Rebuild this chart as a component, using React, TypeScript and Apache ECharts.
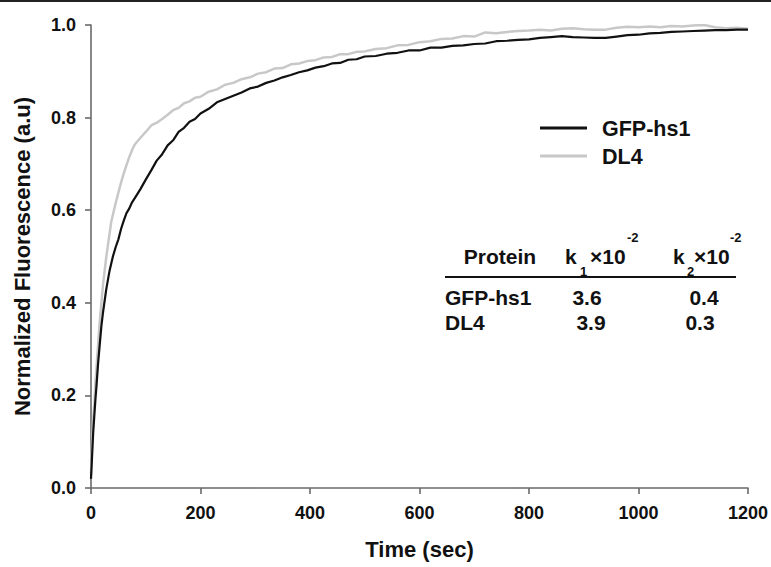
import React, { useEffect, useRef } from "react";
import * as echarts from "echarts";

const timeSec = [
  0, 2, 4, 6, 8, 10, 13, 16, 19, 22, 25, 28, 31, 34, 37, 40, 45, 50, 55, 60, 65, 70, 75, 80, 90,
  100, 110, 120, 130, 140, 150, 160, 170, 180, 190, 200, 215, 230, 245, 260, 275, 290, 305, 320,
  335, 350, 365, 380, 395, 410, 425, 440, 455, 470, 485, 500, 520, 540, 560, 580, 600, 620, 640,
  660, 680, 700, 720, 740, 760, 780, 800, 820, 840, 860, 880, 900, 920, 940, 960, 980, 1000, 1020,
  1040, 1060, 1080, 1100, 1120, 1140, 1160, 1180, 1200,
];

const gfpHs1 = [
  0.02, 0.07, 0.12, 0.155, 0.19, 0.22, 0.27, 0.31, 0.35, 0.38, 0.405, 0.43, 0.45, 0.47, 0.485, 0.5,
  0.52, 0.537, 0.56, 0.578, 0.594, 0.604, 0.617, 0.626, 0.645, 0.666, 0.686, 0.707, 0.721, 0.74,
  0.751, 0.769, 0.778, 0.791, 0.797, 0.809, 0.819, 0.833, 0.84, 0.847, 0.854, 0.863, 0.867, 0.875,
  0.88, 0.887, 0.892, 0.898, 0.902, 0.908, 0.911, 0.917, 0.918, 0.925, 0.926, 0.932, 0.933, 0.938,
  0.94, 0.945, 0.945, 0.951, 0.951, 0.955, 0.956, 0.959, 0.96, 0.965, 0.966, 0.968, 0.969, 0.972,
  0.974, 0.976, 0.974, 0.973, 0.972, 0.972, 0.975, 0.978, 0.979, 0.982, 0.983, 0.985, 0.986, 0.987,
  0.988, 0.989, 0.989, 0.99, 0.99,
];

const dl4 = [
  0.03, 0.1, 0.15, 0.18, 0.225, 0.26, 0.31, 0.36, 0.4, 0.44, 0.47, 0.5, 0.525, 0.55, 0.575, 0.59,
  0.615, 0.638, 0.66, 0.68, 0.698, 0.715, 0.73, 0.742, 0.756, 0.769, 0.783, 0.789, 0.797, 0.806, 0.816,
  0.821, 0.831, 0.835, 0.843, 0.845, 0.856, 0.861, 0.871, 0.875, 0.883, 0.887, 0.895, 0.898, 0.906,
  0.907, 0.915, 0.917, 0.922, 0.924, 0.93, 0.931, 0.937, 0.937, 0.942, 0.943, 0.948, 0.95, 0.956,
  0.957, 0.963, 0.965, 0.97, 0.971, 0.976, 0.975, 0.984, 0.982, 0.985, 0.987, 0.988, 0.99, 0.988,
  0.992, 0.993, 0.991, 0.99, 0.99, 0.994, 0.996, 0.995, 0.997, 0.995, 0.998, 0.997, 0.999, 1.0,
  0.995, 0.993, 0.994, 0.992,
];

const seriesNames = ["GFP-hs1", "DL4"];
const seriesColors = ["#111111", "#c8c8c8"];

const tableHeader = ["Protein", "k", "1", "×10", "-2", "k", "2", "×10", "-2"];
const tableProteins = ["GFP-hs1", "DL4"];
const tableK1 = ["3.6", "3.9"];
const tableK2 = ["0.4", "0.3"];

const FONT = "'Liberation Sans', Arial, Helvetica, sans-serif";

export default function App() {
  const ref = useRef<HTMLDivElement>(null);

  useEffect(() => {
    if (!ref.current) return;
    const chart = echarts.init(ref.current, undefined, { renderer: "svg" });

    const bold = (size: number) => ({
      fontFamily: FONT,
      fontWeight: "bold" as const,
      fontSize: size,
      fill: "#111",
    });

    const graphic: any[] = [
      // top border
      { type: "line", shape: { x1: 0, y1: 1, x2: 771, y2: 1 }, style: { stroke: "#222", lineWidth: 2 } },
      // legend
      { type: "line", shape: { x1: 540, y1: 128, x2: 587, y2: 128 }, style: { stroke: seriesColors[0], lineWidth: 3 } },
      { type: "text", x: 602, y: 129, style: { ...bold(21.5), text: seriesNames[0], verticalAlign: "middle" } },
      { type: "line", shape: { x1: 540, y1: 156, x2: 587, y2: 156 }, style: { stroke: seriesColors[1], lineWidth: 3 } },
      { type: "text", x: 602, y: 157, style: { ...bold(21.5), text: seriesNames[1], verticalAlign: "middle" } },
      // table header
      { type: "text", x: 500, y: 256, style: { ...bold(21), text: tableHeader[0], align: "center", verticalAlign: "middle" } },
      { type: "text", x: 565, y: 256, style: { ...bold(21), text: tableHeader[1], verticalAlign: "middle" } },
      { type: "text", x: 580, y: 271, style: { ...bold(13), text: tableHeader[2], verticalAlign: "middle" } },
      { type: "text", x: 590, y: 256, style: { ...bold(21), text: tableHeader[3], verticalAlign: "middle" } },
      { type: "text", x: 627, y: 237, style: { ...bold(13), text: tableHeader[4], verticalAlign: "middle" } },
      { type: "text", x: 673, y: 256, style: { ...bold(21), text: tableHeader[5], verticalAlign: "middle" } },
      { type: "text", x: 687, y: 271, style: { ...bold(13), text: tableHeader[6], verticalAlign: "middle" } },
      { type: "text", x: 694, y: 256, style: { ...bold(21), text: tableHeader[7], verticalAlign: "middle" } },
      { type: "text", x: 730, y: 237, style: { ...bold(13), text: tableHeader[8], verticalAlign: "middle" } },
      { type: "line", shape: { x1: 445, y1: 277, x2: 736, y2: 277 }, style: { stroke: "#111", lineWidth: 2 } },
    ];
    const rowY = [297, 322];
    tableProteins.forEach((p, i) => {
      graphic.push({ type: "text", x: 445, y: rowY[i], style: { ...bold(21), text: p, verticalAlign: "middle" } });
      graphic.push({ type: "text", x: i === 0 ? 587 : 591, y: rowY[i], style: { ...bold(21), text: tableK1[i], align: "center", verticalAlign: "middle" } });
      graphic.push({ type: "text", x: i === 0 ? 704 : 700, y: rowY[i], style: { ...bold(21), text: tableK2[i], align: "center", verticalAlign: "middle" } });
    });

    const axisLabel = { fontFamily: FONT, fontWeight: "bold" as const, fontSize: 18, color: "#111" };
    const axisLine = { show: true, lineStyle: { color: "#6a6a6a", width: 1.6 } };
    const axisTick = { show: true, inside: false, length: 6, lineStyle: { color: "#6a6a6a", width: 1.6 } };

    chart.setOption({
      animation: false,
      backgroundColor: "#ffffff",
      grid: { left: 91, right: 20, top: 25, bottom: 79, containLabel: false },
      xAxis: {
        type: "value",
        min: 0,
        max: 1200,
        interval: 200,
        name: "Time (sec)",
        nameLocation: "middle",
        nameGap: 50,
        nameTextStyle: { fontFamily: FONT, fontWeight: "bold", fontSize: 22, color: "#111" },
        axisLine,
        axisTick,
        axisLabel: { ...axisLabel, margin: 16, formatter: (v: number) => String(v) },
        splitLine: { show: false },
      },
      yAxis: {
        type: "value",
        min: 0,
        max: 1,
        interval: 0.2,
        name: "Normalized Fluorescence (a.u)",
        nameLocation: "middle",
        nameGap: 58,
        nameTextStyle: { fontFamily: FONT, fontWeight: "bold", fontSize: 22, color: "#111" },
        axisLine,
        axisTick,
        axisLabel: { ...axisLabel, margin: 15, formatter: (v: number) => v.toFixed(1) },
        splitLine: { show: false },
      },
      series: [
        {
          name: seriesNames[1],
          type: "line",
          showSymbol: false,
          data: timeSec.map((t, i) => [t, dl4[i]]),
          lineStyle: { color: seriesColors[1], width: 2.5 },
          itemStyle: { color: seriesColors[1] },
          z: 2,
        },
        {
          name: seriesNames[0],
          type: "line",
          showSymbol: false,
          data: timeSec.map((t, i) => [t, gfpHs1[i]]),
          lineStyle: { color: seriesColors[0], width: 2.2 },
          itemStyle: { color: seriesColors[0] },
          z: 3,
        },
      ],
      graphic,
    });

    return () => chart.dispose();
  }, []);

  return (
    <div
      ref={ref}
      style={{ position: "fixed", left: 0, top: 0, width: 771, height: 567, background: "#fff" }}
    />
  );
}
